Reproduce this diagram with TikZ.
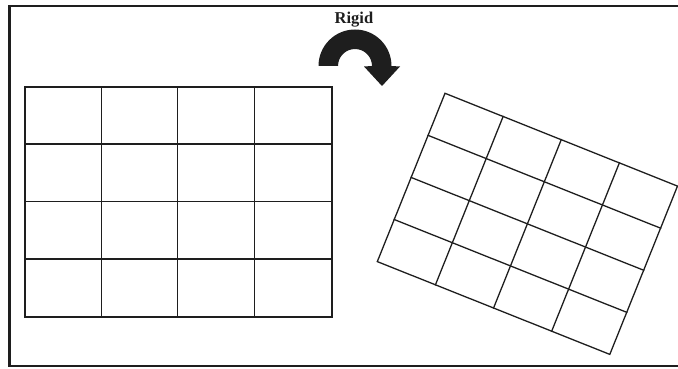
\documentclass[tikz,border=0pt]{standalone}
\usepackage{fontspec}
\setmainfont{Liberation Serif}
\definecolor{ink}{HTML}{1E1E1E}
\begin{document}
\begin{tikzpicture}[x=1pt,y=-1pt,
  frameline/.style={draw=ink,line width=2.2pt},
  gridline/.style={draw=ink,line width=1.3pt,line cap=rect},
  turnarrow/.style={fill=ink,draw=none}]
\useasboundingbox (0,0) rectangle (678,369);
% open frame, its right side runs off the page
\draw[frameline] (678,6) -- (9.5,6) -- (9.5,366) -- (678,366);
% caption of the turning arrow
\node[anchor=base,inner sep=0pt,font=\fontsize{16.5}{18}\selectfont\bfseries,text=ink]
  (lbl) at (354,24) {Rigid};
% curved arrow turning clockwise over the top
\fill[turnarrow] (318.5,66) arc[start angle=180,end angle=360,radius=36.5]
  -- (400,66.5) -- (382,86) -- (364,66.5) -- (372,66)
  arc[start angle=360,end angle=180,radius=17] -- cycle;
% upright 4x4 grid
\begin{scope}
  \draw[gridline] (25,87) rectangle (332,317);
  \foreach \gx in {101.7,177.3,254.3} \draw[gridline] (\gx,87) -- (\gx,317);
  \foreach \gy in {144,201.7,259} \draw[gridline] (25,\gy) -- (332,\gy);
\end{scope}
% the same grid after a rigid rotation (canvas vectors, y pointing up)
\begin{scope}[shift={(445,93.3)},x={(232.5pt,-92.8pt)},y={(-67.7pt,-168.3pt)}]
  \draw[gridline] (0,0) -- (1,0) -- (1,1) -- (0,1) -- cycle;
  \foreach \t in {0.25,0.5,0.75} {
    \draw[gridline] (\t,0) -- (\t,1);
    \draw[gridline] (0,\t) -- (1,\t);
  }
\end{scope}
\end{tikzpicture}
\end{document}
